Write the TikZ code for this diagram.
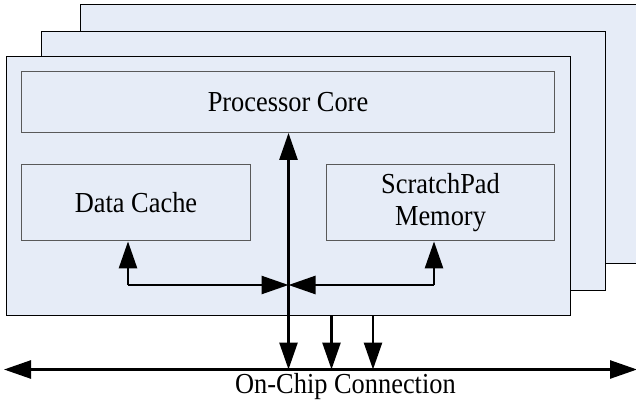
\documentclass[tikz,border=0pt]{standalone}
\usepackage{fontspec}
\setmainfont[FakeStretch=0.91]{Liberation Serif}
\usetikzlibrary{arrows.meta}
\definecolor{panel}{HTML}{E6ECF7}
\tikzset{
  x=1pt, y=-1pt,
  card/.style={draw=black, line width=1pt, fill=panel},
  label/.style={font=\fontsize{29}{32}\selectfont},
  unit/.style={label, draw=black!65, line width=1.3pt, fill=panel, inner sep=0pt,
    align=center},
  link/.style={line width=2.6pt, -{Triangle[length=27pt,width=18pt]}},
  dlink/.style={line width=2.6pt, {Triangle[length=27pt,width=18pt]}-{Triangle[length=27pt,width=18pt]}}
}
\begin{document}
\begin{tikzpicture}
\useasboundingbox (0,0) rectangle (636,406);
% stacked processor cards
\draw[card] (80,5) -- (640,5) -- (640,263) -- (80,263) -- cycle;
\draw[card] (41.5,31.5) rectangle (605.5,290);
\draw[card] (6.5,56.5) rectangle (570,315);
% units on the front card
\node[unit, minimum width=533pt, minimum height=60.5pt] (core) at (288,102) {Processor Core};
\node[unit, minimum width=228.5pt, minimum height=76.5pt] (cache) at (136,202.5) {Data Cache};
\node[unit, minimum width=228.5pt, minimum height=76.5pt] (spm) at (440.5,202.5) {ScratchPad\\Memory};
% internal interconnect
\coordinate (hub) at (288.5,285);
\coordinate (cport) at (128,285);
\coordinate (sport) at (434,285);
\coordinate (out1) at (331.5,315);
\coordinate (out2) at (373,315);
\coordinate (busL) at (4,369.5);
\coordinate (busR) at (637,369.5);
\coordinate (bus0) at (288.5,369.5);
\coordinate (bus1) at (331.5,369.5);
\coordinate (bus2) at (373,369.5);
\draw[dlink] (core.south -| hub) -- (bus0);
\draw[link] (cport) -- (hub);
\draw[link] (sport) -- (hub);
\draw[link] (cport) -- (cport |- cache.south);
\draw[link] (sport) -- (sport |- spm.south);
\draw[link] (out1) -- (bus1);
\draw[link] (out2) -- (bus2);
% on-chip bus
\draw[dlink] (busL) -- (busR);
\node[label] (buslabel) at (345.5,387) {On-Chip Connection};
\end{tikzpicture}
\end{document}
